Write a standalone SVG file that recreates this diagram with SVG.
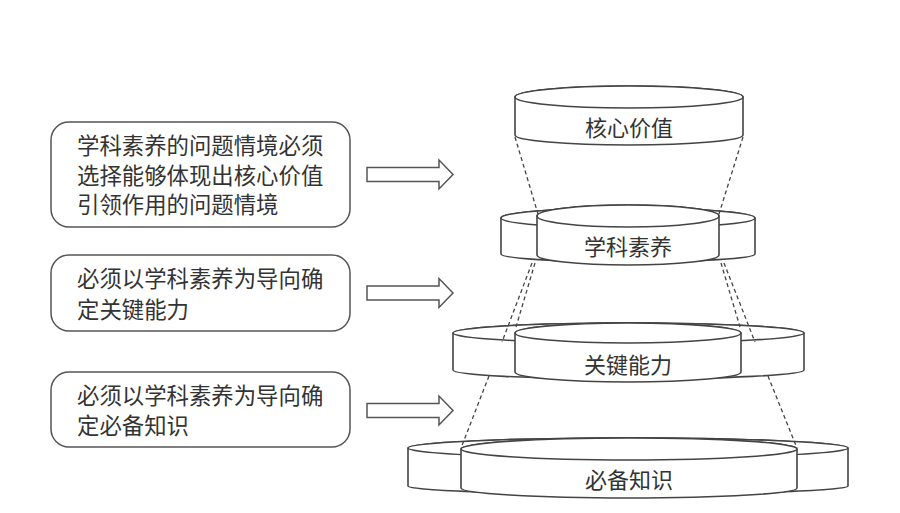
<svg xmlns="http://www.w3.org/2000/svg" width="900" height="513" viewBox="0 0 900 513">
<defs>
<style>
.box{fill:#fff;stroke:#555;stroke-width:1.5}
.t{font-family:"Noto Sans CJK SC","Noto Sans CJK JP",sans-serif;font-size:22.4px;fill:#333}
.lab{font-family:"Noto Sans CJK SC","Noto Sans CJK JP",sans-serif;font-size:22px;fill:#333;text-anchor:middle}
.arr{fill:#fff;stroke:#555;stroke-width:1.5;stroke-linejoin:miter}
.cyl{fill:#fff;stroke:#444;stroke-width:1.6}
.dash{fill:none;stroke:#444;stroke-width:1.3;stroke-dasharray:4 3}
</style>
</defs>
<rect width="900" height="513" fill="#fff"/>

<g id="box1">
<rect class="box" x="51" y="122" width="299" height="105" rx="18"/>
<text class="t" x="77" y="153.5">学科素养的问题情境必须</text>
<text class="t" x="77" y="183.5">选择能够体现出核心价值</text>
<text class="t" x="77" y="212.5">引领作用的问题情境</text>
</g>
<g id="box2">
<rect class="box" x="51" y="255" width="299" height="76" rx="18"/>
<text class="t" x="77" y="286.5">必须以学科素养为导向确</text>
<text class="t" x="77" y="317.5">定关键能力</text>
</g>
<g id="box3">
<rect class="box" x="51" y="372" width="299" height="75" rx="18"/>
<text class="t" x="77" y="403.5">必须以学科素养为导向确</text>
<text class="t" x="77" y="433.5">定必备知识</text>
</g>

<g id="arrow1"><path class="arr" d="M367,167.5 H439 V160 L453,174.5 L439,189 V181.5 H367 Z"/></g>
<g id="arrow2"><path class="arr" d="M367,286 H439 V278.5 L453,293 L439,307.5 V300 H367 Z"/></g>
<g id="arrow3"><path class="arr" d="M367,403.5 H439 V396 L453,410.5 L439,425 V417.5 H367 Z"/></g>

<g id="cyl-hexin">
<path class="cyl" d="M515,97 A114,11 0 0 1 743,97 L743,135 A114,10 0 0 1 515,135 Z"/>
<ellipse class="cyl" cx="629" cy="97" rx="114" ry="11"/>
<text class="lab" x="629" y="136">核心价值</text>
</g>

<g id="cyl-suyang">
<path class="cyl" d="M501,218 A127,10 0 0 1 755,218 L755,254 A127,8 0 0 1 501,254 Z"/>
<ellipse class="cyl" cx="628" cy="218" rx="127" ry="10"/>
<path class="cyl" d="M537,216 A91,11 0 0 1 719,216 L719,255 A91,10 0 0 1 537,255 Z"/>
<ellipse class="cyl" cx="628" cy="216" rx="91" ry="11"/>
<text class="lab" x="628" y="255">学科素养</text>
</g>

<g id="cyl-nengli">
<path class="cyl" d="M453,333 A175.5,10 0 0 1 804,333 L804,370 A175.5,9 0 0 1 453,370 Z"/>
<ellipse class="cyl" cx="628.5" cy="333" rx="175.5" ry="10"/>
<path class="cyl" d="M515,333 A113,10 0 0 1 741,333 L741,372 A113,10 0 0 1 515,372 Z"/>
<ellipse class="cyl" cx="628" cy="333" rx="113" ry="10"/>
<text class="lab" x="628" y="373">关键能力</text>
</g>

<g id="cyl-zhishi">
<path class="cyl" d="M408,448 A220,10 0 0 1 848,448 L848,486 A220,8 0 0 1 408,486 Z"/>
<ellipse class="cyl" cx="628" cy="448" rx="220" ry="10"/>
<path class="cyl" d="M461,449 A168,11 0 0 1 797,449 L797,488 A168,10 0 0 1 461,488 Z"/>
<ellipse class="cyl" cx="629" cy="449" rx="168" ry="11"/>
<text class="lab" x="629" y="488">必备知识</text>
</g>

<g id="connectors">
<line class="dash" x1="515" y1="137" x2="538" y2="214"/>
<line class="dash" x1="743" y1="137" x2="719" y2="214"/>
<line class="dash" x1="535" y1="263" x2="516" y2="327"/>
<line class="dash" x1="721" y1="263" x2="740" y2="327"/>
<line class="dash" x1="532" y1="263" x2="502" y2="342"/>
<line class="dash" x1="489" y1="376" x2="461" y2="448"/>
<line class="dash" x1="724" y1="263" x2="755" y2="342"/>
<line class="dash" x1="768" y1="376" x2="797" y2="448"/>
</g>
</svg>
